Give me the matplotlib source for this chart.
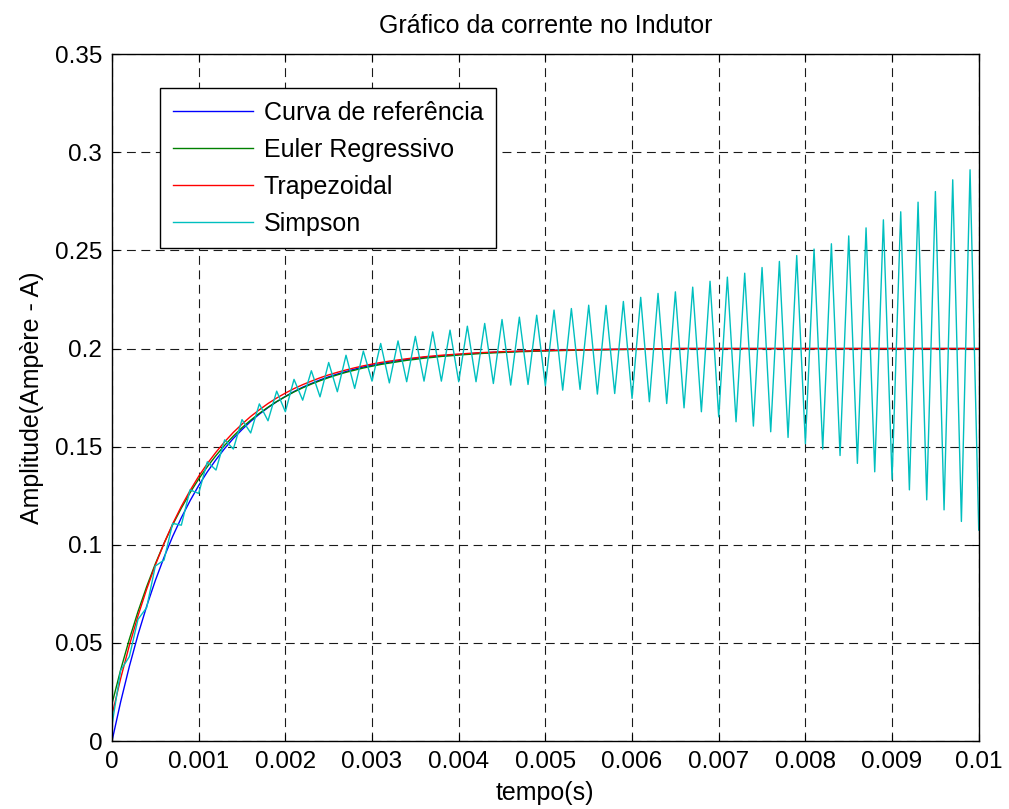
import matplotlib
matplotlib.use("Agg")
import matplotlib.pyplot as plt
import numpy as np

plt.rcParams['font.family'] = ['Liberation Sans', 'DejaVu Sans']

# passo de 0.1 ms, 101 amostras
tempo = np.linspace(0, 0.01, 101)

referencia = [0.0, 0.0200, 0.0380, 0.0542, 0.0687, 0.0818, 0.0936, 0.1043, 0.1138, 0.1224,
              0.1302, 0.1372, 0.1434, 0.1491, 0.1542, 0.1587, 0.1629, 0.1666, 0.1699, 0.1729,
              0.1756, 0.1781, 0.1803, 0.1822, 0.1840, 0.1856, 0.1870, 0.1883, 0.1895, 0.1906,
              0.1915, 0.1923, 0.1931, 0.1938, 0.1944, 0.1950, 0.1955, 0.1959, 0.1963, 0.1967,
              0.1970, 0.1973, 0.1976, 0.1978, 0.1981, 0.1982, 0.1984, 0.1986, 0.1987, 0.1988,
              0.1990, 0.1991, 0.1992, 0.1992, 0.1993, 0.1994, 0.1995, 0.1995, 0.1996, 0.1996,
              0.1997, 0.1997, 0.1998, 0.1998, 0.1999] + [0.2] * 36

euler_reg = [0.0190, 0.0363, 0.0519, 0.0660, 0.0787, 0.0903, 0.1007, 0.1102, 0.1187, 0.1265,
             0.1335, 0.1398, 0.1455, 0.1507, 0.1554, 0.1597, 0.1635, 0.1670, 0.1701, 0.1730,
             0.1755, 0.1779, 0.1800, 0.1819, 0.1836, 0.1852, 0.1866, 0.1879, 0.1890, 0.1901,
             0.1910, 0.1919, 0.1926, 0.1933, 0.1940, 0.1945, 0.1951, 0.1955, 0.1960, 0.1963,
             0.1967, 0.1970, 0.1973, 0.1976, 0.1978, 0.1980, 0.1982, 0.1984, 0.1985, 0.1987,
             0.1988, 0.1989, 0.1990, 0.1991, 0.1992, 0.1993, 0.1993, 0.1994, 0.1995, 0.1995,
             0.1996, 0.1996, 0.1997, 0.1997, 0.1998] + [0.2] * 36

trapezoidal = [0.0132, 0.0319, 0.0487, 0.0638, 0.0774, 0.0897, 0.1007, 0.1107, 0.1196, 0.1276,
               0.1349, 0.1414, 0.1472, 0.1525, 0.1573, 0.1615, 0.1654, 0.1688, 0.1720, 0.1748,
               0.1773, 0.1796, 0.1816, 0.1834, 0.1851, 0.1866, 0.1879, 0.1891, 0.1902, 0.1912,
               0.1921, 0.1929, 0.1936, 0.1942, 0.1948, 0.1953, 0.1958, 0.1962, 0.1966, 0.1969,
               0.1972, 0.1975, 0.1978, 0.1980, 0.1982, 0.1984, 0.1985, 0.1987, 0.1988, 0.1989,
               0.1990, 0.1991, 0.1992, 0.1993, 0.1994, 0.1994, 0.1995, 0.1996, 0.1996, 0.1997,
               0.1997, 0.1998, 0.1998, 0.1999, 0.1999] + [0.2] * 36

simpson = [0.0082, 0.0360, 0.0430, 0.0620, 0.0680, 0.0892, 0.0922, 0.1109, 0.1100, 0.1280,
           0.1262, 0.1423, 0.1381, 0.1535, 0.1488, 0.1638, 0.1570, 0.1718, 0.1632, 0.1783,
           0.1678, 0.1843, 0.1737, 0.1887, 0.1754, 0.1929, 0.1780, 0.1966, 0.1797, 0.1987,
           0.1834, 0.2026, 0.1825, 0.2039, 0.1831, 0.2062, 0.1834, 0.2085, 0.1834, 0.2094,
           0.1831, 0.2114, 0.1831, 0.2128, 0.1822, 0.2148, 0.1814, 0.2160, 0.1817, 0.2170,
           0.1810, 0.2196, 0.1788, 0.2204, 0.1792, 0.2221, 0.1768, 0.2220, 0.1771, 0.2240,
           0.1746, 0.2261, 0.1729, 0.2281, 0.1720, 0.2289, 0.1698, 0.2313, 0.1678, 0.2343,
           0.1652, 0.2364, 0.1627, 0.2384, 0.1605, 0.2413, 0.1576, 0.2444, 0.1547, 0.2474,
           0.1515, 0.2507, 0.1488, 0.2534, 0.1455, 0.2574, 0.1415, 0.2615, 0.1372, 0.2656,
           0.1333, 0.2697, 0.1280, 0.2746, 0.1229, 0.2800, 0.1178, 0.2860, 0.1119, 0.2911,
           0.1075]

x_ticks = [0, 0.001, 0.002, 0.003, 0.004, 0.005, 0.006, 0.007, 0.008, 0.009, 0.01]
x_labels = ['0', '0.001', '0.002', '0.003', '0.004', '0.005', '0.006', '0.007', '0.008', '0.009', '0.01']
y_ticks = [0, 0.05, 0.1, 0.15, 0.2, 0.25, 0.3, 0.35]
y_labels = ['0', '0.05', '0.1', '0.15', '0.2', '0.25', '0.3', '0.35']

fig = plt.figure(figsize=(10.09, 8.09), dpi=100)
ax = fig.add_axes([0.111, 0.084, 0.859, 0.849])

ax.plot(tempo, referencia, color=(0, 0, 1), lw=1, label='Curva de referência')
ax.plot(tempo, euler_reg, color=(0, 0.5, 0), lw=1, label='Euler Regressivo')
ax.plot(tempo, trapezoidal, color=(1, 0, 0), lw=1, label='Trapezoidal')
ax.plot(tempo, simpson, color=(0, 0.75, 0.75), lw=1, label='Simpson')

ax.set_xlim(0, 0.01)
ax.set_ylim(0, 0.35)
ax.set_xticks(x_ticks)
ax.set_xticklabels(x_labels)
ax.set_yticks(y_ticks)
ax.set_yticklabels(y_labels)
ax.tick_params(direction='in', top=True, right=True, length=5, width=0.8,
               labelsize=17.5, pad=7)
ax.grid(True, color='0.1', linestyle=(0, (8, 5)), linewidth=0.8)
for s in ax.spines.values():
    s.set_linewidth(1)

ax.set_title('Gráfico da corrente no Indutor', fontsize=18, pad=15)
ax.set_xlabel('tempo(s)', fontsize=18, labelpad=6)
ax.set_ylabel('Amplitude(Ampère - A)', fontsize=18, labelpad=8)

leg = ax.legend(loc='upper left', bbox_to_anchor=(0.0554, 0.9505), fontsize=18,
                handlelength=3.2, handletextpad=0.45, labelspacing=0.52,
                borderpad=0.5, borderaxespad=0, fancybox=False, framealpha=1,
                edgecolor='k')
leg.get_frame().set_linewidth(1)

fig.savefig('out.png', dpi=100)
